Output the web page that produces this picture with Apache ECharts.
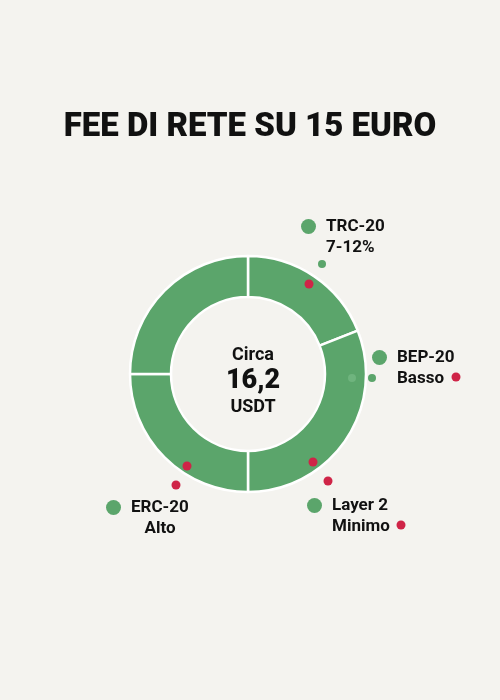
<!DOCTYPE html>
<html>
<head>
<meta charset="utf-8">
<script src="https://cdn.jsdelivr.net/npm/echarts@6/dist/echarts.min.js"></script>
<style>
html,body{margin:0;padding:0;background:#f4f3ef;}
#chart{width:500px;height:700px;}
</style>
</head>
<body>
<div id="chart"></div>
<script>
// Data
const networks = ['TRC-20', 'BEP-20', 'ERC-20', 'Layer 2'];
const shares = [19, 31, 25, 25];
const feeNotes = ['7-12%', 'Basso', 'Alto', 'Minimo'];
const titleText = 'FEE DI RETE SU 15 EURO';
const centerLines = ['Circa', '16,2', 'USDT'];

// Layout / style
const GREEN = '#5ba56b';
const RED = '#cf2447';
const BG = '#f4f3ef';
const labelPos = [[301, 216], [372, 347], [106, 497], [307, 495]];
const centeredSub = [false, false, true, false];
const decoDots = [
  [322, 264, 4, GREEN], [309, 284, 4.5, RED],
  [352, 378, 4, '#6fb47e'], [372, 378, 4, GREEN], [456, 377, 4.5, RED],
  [313, 462, 4.5, RED], [328, 481, 4.5, RED], [401, 525, 4.5, RED],
  [187, 466, 4.5, RED], [176, 485, 4.5, RED]
];

const chart = echarts.init(document.getElementById('chart'), null, {renderer: 'canvas'});
const FONT = 'Roboto, "DejaVu Sans", sans-serif';

chart.setOption({
  backgroundColor: BG,
  animation: false,
  title: [
    {
      text: titleText,
      left: 'center',
      top: 106,
      textStyle: {fontFamily: FONT, fontSize: 33, fontWeight: 900, color: '#111'}
    },
    {
      text: `{a|${centerLines[0]}}\n{b|${centerLines[1]}}\n{c|${centerLines[2]}}`,
      left: 248,
      top: 338,
      textAlign: 'center',
      textStyle: {
        rich: {
          a: {fontFamily: FONT, fontSize: 18, fontWeight: 'bold', color: '#111', lineHeight: 24, align: 'center'},
          b: {fontFamily: FONT, fontSize: 27, fontWeight: 900, color: '#111', lineHeight: 28, align: 'center'},
          c: {fontFamily: FONT, fontSize: 18, fontWeight: 'bold', color: '#111', lineHeight: 24, align: 'center'}
        }
      }
    }
  ],
  series: [{
    type: 'pie',
    center: [248, 374],
    radius: [77, 118],
    startAngle: 90,
    clockwise: true,
    avoidLabelOverlap: false,
    itemStyle: {color: GREEN, borderColor: '#ffffff', borderWidth: 2.5},
    emphasis: {disabled: true},
    labelLine: {show: false},
    label: {
      show: true,
      position: 'outside',
      color: '#111',
      formatter: p => {
        const sub = centeredSub[p.dataIndex] ? 'subc' : 'sub';
        return `{dot| }{gap| }{name|${p.name}}\n{pad| }{${sub}|${feeNotes[p.dataIndex]}}`;
      },
      rich: {
        dot: {width: 15, height: 15, borderRadius: 7.5, backgroundColor: GREEN, fontSize: 1, lineHeight: 21, verticalAlign: 'middle'},
        gap: {width: 10, fontSize: 1, lineHeight: 21},
        pad: {width: 25, fontSize: 1, lineHeight: 21},
        name: {fontFamily: FONT, fontSize: 17, fontWeight: 'bold', color: '#111', lineHeight: 21},
        sub: {fontFamily: FONT, fontSize: 17, fontWeight: 'bold', color: '#111', lineHeight: 21},
        subc: {fontFamily: FONT, fontSize: 17, fontWeight: 'bold', color: '#111', lineHeight: 21, width: 58, align: 'center'}
      }
    },
    labelLayout: p => ({
      x: labelPos[p.dataIndex][0],
      y: labelPos[p.dataIndex][1],
      align: 'left',
      verticalAlign: 'top'
    }),
    data: networks.map((n, i) => ({name: n, value: shares[i]}))
  }],
  graphic: decoDots.map(d => ({
    type: 'circle',
    shape: {cx: d[0], cy: d[1], r: d[2]},
    style: {fill: d[3]},
    silent: true,
    z: 10
  }))
});
</script>
</body>
</html>
